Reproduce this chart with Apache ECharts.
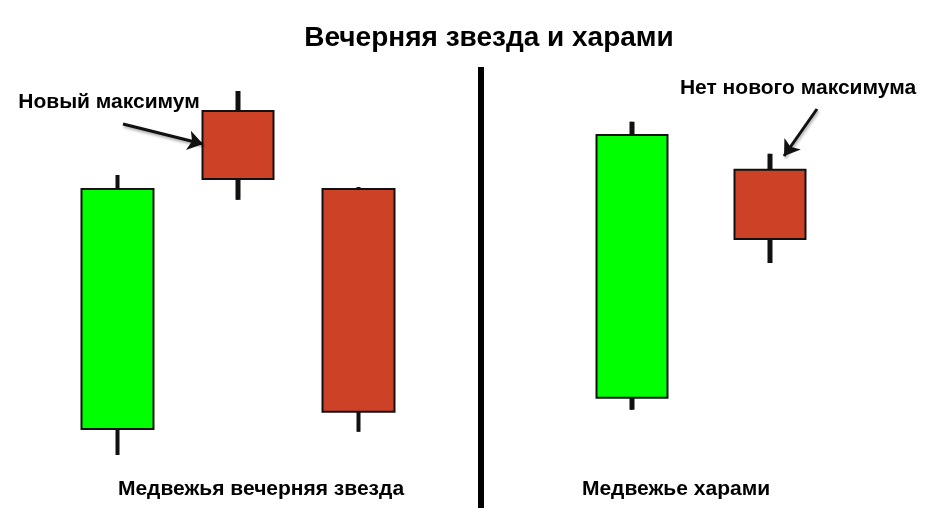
<!DOCTYPE html>
<html style="height: 100%">
<head>
    <meta charset="utf-8">
</head>
<body style="height: 100%; margin: 0; background: #fff">
<div id="container" style="height: 100%"></div>

<script type="text/javascript" src="https://cdn.jsdelivr.net/npm/echarts@6/dist/echarts.min.js"></script>

<script type="text/javascript">
    // candle data: [open, close, low, high]
    var starCategories = ['1', '2', '3'];
    var starCandles = [
        [10.5, 70.5, 4, 74],
        [90, 73, 67.8, 95],
        [70.5, 14.8, 9.8, 71]
    ];
    var haramiCategories = ['1', '2'];
    var haramiCandles = [
        [18.3, 84, 15.3, 87.3],
        [75.3, 58, 52, 79.3]
    ];

    var titleText = 'Вечерняя звезда и харами';
    var starLabel = 'Медвежья вечерняя звезда';
    var haramiLabel = 'Медвежье харами';
    var starNote = 'Новый максимум';
    var haramiNote = 'Нет нового максимума';

    var dom = document.getElementById("container");
    var myChart = echarts.init(dom);

    var font = '"Liberation Sans", Arial, sans-serif';
    var upColor = '#00ff00';
    var downColor = '#cd4227';
    var edge = '#111111';

    // thick wick: a thin black body from low to high, drawn under the real candle
    function wickSeries(idx, data) {
        return {
            type: 'candlestick',
            xAxisIndex: idx,
            yAxisIndex: idx,
            data: data.map(function (d) { return [d[2], d[3], d[2], d[3]]; }),
            barWidth: 5,
            silent: true,
            itemStyle: {
                color: edge, color0: edge,
                borderColor: edge, borderColor0: edge,
                borderWidth: 0
            }
        };
    }

    function bodySeries(idx, data, arrow) {
        return {
            type: 'candlestick',
            xAxisIndex: idx,
            yAxisIndex: idx,
            data: data,
            barWidth: 72,
            silent: true,
            itemStyle: {
                color: upColor, color0: downColor,
                borderColor: edge, borderColor0: edge,
                borderWidth: 2
            },
            markLine: {
                silent: true,
                symbol: ['none', 'arrow'],
                symbolSize: 15,
                label: { show: false },
                lineStyle: {
                    color: '#111', width: 3, type: 'solid',
                    shadowColor: 'rgba(0,0,0,0.35)', shadowBlur: 3, shadowOffsetX: 1, shadowOffsetY: 2
                },
                data: [arrow]
            }
        };
    }

    function textItem(text, x, y, size) {
        return {
            text: text,
            left: x,
            top: y,
            textAlign: 'center',
            textStyle: { fontFamily: font, fontWeight: 'bold', fontSize: size, color: '#000' }
        };
    }

    var option = {
        animation: false,
        backgroundColor: '#fff',
        title: [
            textItem(titleText, 484, 19, 28),
            textItem(starLabel, 256, 474, 21),
            textItem(haramiLabel, 671, 474, 21),
            textItem(starNote, 104, 87, 21),
            textItem(haramiNote, 793, 73, 21)
        ],
        grid: [
            { left: 57, width: 362, top: 71, height: 400 },
            { left: 563, width: 276, top: 71, height: 400 }
        ],
        xAxis: [
            { type: 'category', gridIndex: 0, data: starCategories, show: false },
            { type: 'category', gridIndex: 1, data: haramiCategories, show: false }
        ],
        yAxis: [
            { type: 'value', gridIndex: 0, min: 0, max: 100, show: false },
            { type: 'value', gridIndex: 1, min: 0, max: 100, show: false }
        ],
        graphic: [{
            type: 'line',
            shape: { x1: 481, y1: 67, x2: 481, y2: 508 },
            style: { stroke: '#000', lineWidth: 6 }
        }],
        series: [
            wickSeries(0, starCandles),
            bodySeries(0, starCandles, [{ x: 123, y: 124 }, { x: 203, y: 144 }]),
            wickSeries(1, haramiCandles),
            bodySeries(1, haramiCandles, [{ x: 817, y: 109 }, { x: 784, y: 156 }])
        ]
    };

    myChart.setOption(option);
</script>
</body>
</html>
